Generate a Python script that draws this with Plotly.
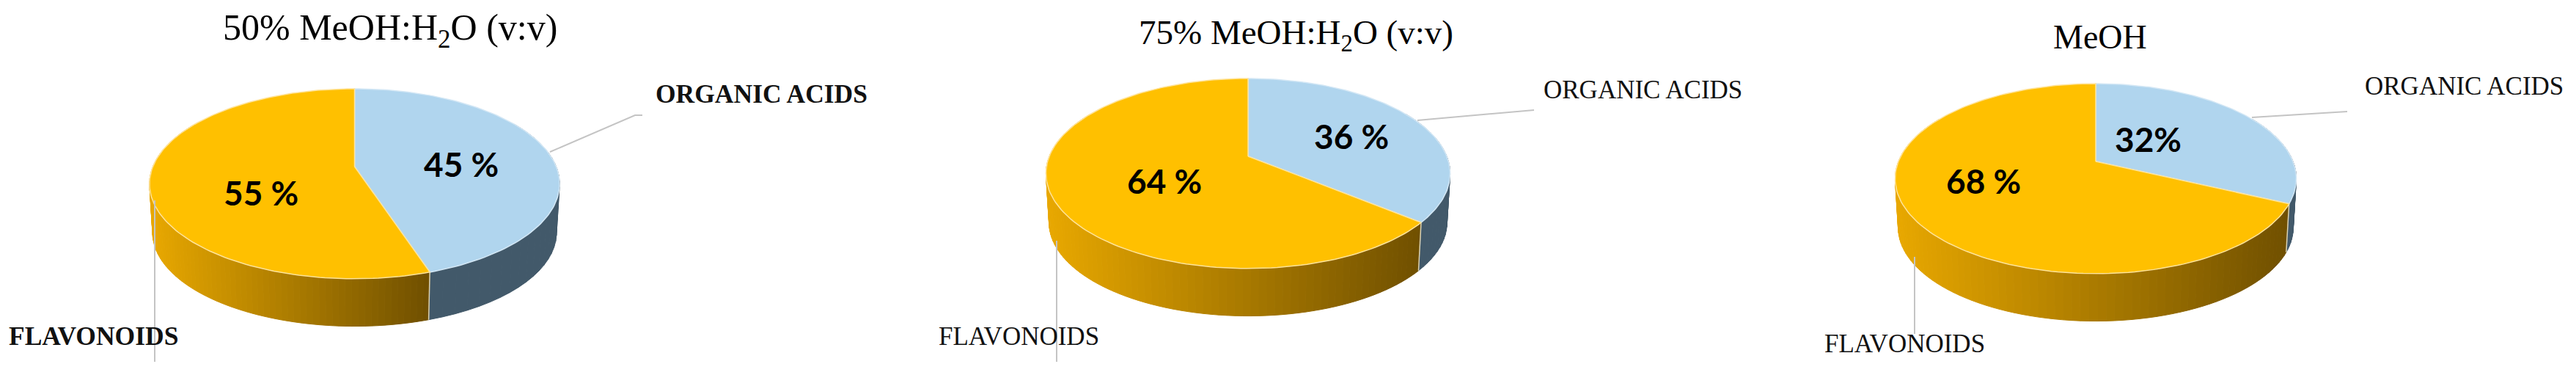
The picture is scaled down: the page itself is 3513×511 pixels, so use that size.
"""Three perspective pies: organic acids vs flavonoids per extraction solvent."""
import numpy as np
import plotly.graph_objects as go

TITLES = ["50% MeOH:H<sub>2</sub>O (v:v)", "75% MeOH:H<sub>2</sub>O (v:v)", "MeOH"]
ORGANIC_ACIDS = [45, 36, 32]
FLAVONOIDS = [55, 64, 68]
ORGANIC_LABELS = ["45 %", "36 %", "32%"]
FLAVONOID_LABELS = ["55 %", "64 %", "68 %"]

W, H = 3513, 511
PAGE_MARGIN = 8        # default body margin of the page, taken off the figure and the axes
RY, K = 125.2, 0.181   # perspective of the top face
SHRINK, DEPTH = 0.985, 67
BLUE, ORANGE = "#B0D5EE", "#FFC000"
GREY = "#C4C4C4"
SERIF = "Liberation Serif"

# apex and width of each pie, then text and leader placement
APEX = [(483.5, 227), (1702, 213), (2858, 220)]
RX = [275, 271, 269]
TITLE_XY = [(532, 41), (1767, 47), (2864, 50)]
TITLE_SIZE = [50, 47, 46]
ORG_XY = [(1038, 128), (2240, 122), (3360, 117)]
FLAV_XY = [(127, 458), (1389, 458), (2597, 468)]
ORG_LEADER = [[(750, 207), (866, 157), (876, 157)], [(1933, 164), (2092, 150)], [(3071, 160), (3201, 152)]]
FLAV_LEADER = [[(211, 273), (211, 493)], [(1441, 328), (1441, 493)], [(2611, 350), (2611, 455)]]
ORG_PCT_XY = [(629, 223), (1843, 185), (2929, 189)]
FLAV_PCT_XY = [(356, 262), (1588, 246), (2705, 246)]


def project(theta, apex, rx, scale=1.0, dy=0.0):
    """Clockwise angle from 12 o'clock (radians) -> page pixels."""
    w = 1 + K * np.cos(theta)
    x = apex[0] + scale * rx * np.sin(theta) / w
    y = apex[1] - scale * RY * np.cos(theta) / w + dy
    return x, y


def mix(t):
    # rim shading runs left to right
    a, b = np.array([232, 168, 0]), np.array([112, 80, 0])
    r, g, bl = (a + (b - a) * min(max(t, 0), 1)).astype(int)
    return f"rgb({r},{g},{bl})"


def polygon(x, y, color, line=None, width=1):
    return go.Scatter(
        x=x, y=y, mode="lines", fill="toself", fillcolor=color,
        line=dict(color=line or color, width=width), hoverinfo="skip", showlegend=False,
    )


def wall_quad(a, b, apex, rx):
    t = np.array([a, b, b, a, a])
    sc = np.array([1, 1, SHRINK, SHRINK, 1])
    dy = np.array([0, 0, DEPTH, DEPTH, 0])
    return project(t, apex, rx, sc, dy)


fig = go.Figure()
for i, apex in enumerate(APEX):
    rx = RX[i]
    split = 2 * np.pi * ORGANIC_ACIDS[i] / (ORGANIC_ACIDS[i] + FLAVONOIDS[i])

    # side wall, hidden parts end up under the top face
    steps = np.linspace(np.radians(60), split, 30)
    for a, b in zip(steps[:-1], steps[1:]):
        x, y = wall_quad(a, b, apex, rx)
        fig.add_trace(polygon(x, y, "#42596A"))

    steps = np.linspace(split, np.radians(300), 90)
    x_right = project(split, apex, rx)[0]
    x_left = apex[0] - rx
    for a, b in zip(steps[:-1], steps[1:]):
        x, y = wall_quad(a, b, apex, rx)
        fig.add_trace(polygon(x, y, mix((x.mean() - x_left) / (x_right - x_left))))

    # pale seam where the two walls meet
    x, y = wall_quad(split, split, apex, rx)
    fig.add_trace(go.Scatter(x=x[1:3], y=y[1:3], mode="lines", line=dict(color="#D9D2B8", width=1.5),
                             hoverinfo="skip", showlegend=False))

    # top face
    th = np.linspace(0, split, 120)
    x, y = project(th, apex, rx)
    fig.add_trace(polygon(np.r_[apex[0], x, apex[0]], np.r_[apex[1], y, apex[1]], BLUE, "#D3E7F5", 1.5))
    th = np.linspace(split, 2 * np.pi, 160)
    x, y = project(th, apex, rx)
    fig.add_trace(polygon(np.r_[apex[0], x, apex[0]], np.r_[apex[1], y, apex[1]], ORANGE, "#FFE39A", 1.5))

    # leaders
    for leader in (ORG_LEADER[i], FLAV_LEADER[i]):
        fig.add_trace(go.Scatter(
            x=[p[0] for p in leader], y=[p[1] for p in leader], mode="lines",
            line=dict(color=GREY, width=2), hoverinfo="skip", showlegend=False,
        ))

    bold = i == 0
    label_size = 35.5 if bold else 35
    fig.add_annotation(x=TITLE_XY[i][0], y=TITLE_XY[i][1], text=TITLES[i], showarrow=False,
                       font=dict(family=SERIF, size=TITLE_SIZE[i], color="#000"))
    fig.add_annotation(x=ORG_XY[i][0], y=ORG_XY[i][1],
                       text="<b>ORGANIC ACIDS</b>" if bold else "ORGANIC ACIDS", showarrow=False,
                       font=dict(family=SERIF, size=label_size, color="#111"))
    fig.add_annotation(x=FLAV_XY[i][0], y=FLAV_XY[i][1],
                       text="<b>FLAVONOIDS</b>" if bold else "FLAVONOIDS", showarrow=False,
                       font=dict(family=SERIF, size=label_size, color="#111"))
    fig.add_annotation(x=ORG_PCT_XY[i][0], y=ORG_PCT_XY[i][1], text=f"<b>{ORGANIC_LABELS[i]}</b>", showarrow=False,
                       font=dict(family="Lato", size=46, color="#000"))
    fig.add_annotation(x=FLAV_PCT_XY[i][0], y=FLAV_PCT_XY[i][1], text=f"<b>{FLAVONOID_LABELS[i]}</b>", showarrow=False,
                       font=dict(family="Lato", size=46, color="#000"))

fig.update_layout(
    width=W - PAGE_MARGIN, height=H - PAGE_MARGIN, margin=dict(l=0, r=0, t=0, b=0),
    paper_bgcolor="white", plot_bgcolor="white", showlegend=False,
    xaxis=dict(range=[PAGE_MARGIN, W], visible=False, fixedrange=True),
    yaxis=dict(range=[H, PAGE_MARGIN], visible=False, fixedrange=True),
)
fig.write_html("out.html")
